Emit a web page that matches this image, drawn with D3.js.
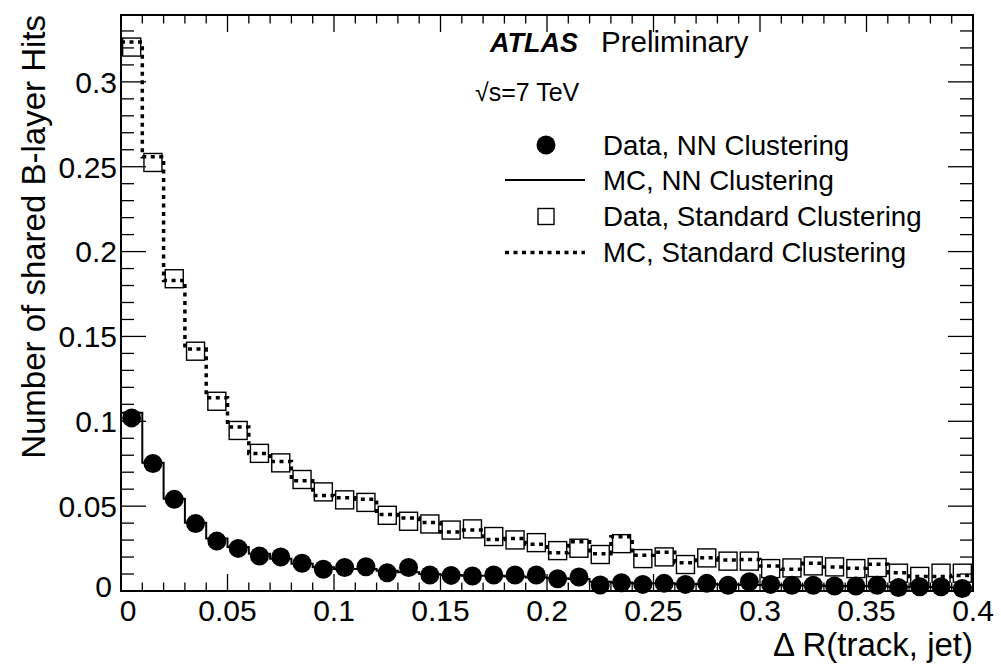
<!DOCTYPE html>
<html><head><meta charset="utf-8">
<script src="https://cdn.jsdelivr.net/npm/d3@7"></script>
<style>body{margin:0;background:#fff}text{font-family:"Liberation Sans",Arial,Helvetica,sans-serif;fill:#000}</style>
</head><body>
<svg id="c" width="1001" height="666"></svg>
<script>
const binEdges = d3.range(0, 41).map(i => i * 0.01);
const dataNN = [0.102,0.0751,0.054,0.0398,0.0294,0.0251,0.0206,0.020,0.0163,0.0128,0.0138,0.0143,0.0108,0.0138,0.0094,0.0092,0.0088,0.0094,0.0094,0.0094,0.0072,0.0082,0.0035,0.0049,0.0039,0.0045,0.0039,0.0045,0.0034,0.0055,0.0039,0.0034,0.0034,0.003,0.003,0.0034,0.002,0.0025,0.0025,0.0015];
const mcNN = [0.105,0.0755,0.0543,0.0402,0.031,0.026,0.022,0.019,0.016,0.014,0.013,0.013,0.012,0.011,0.010,0.0095,0.009,0.009,0.0085,0.008,0.0075,0.007,0.0055,0.005,0.0045,0.0045,0.004,0.004,0.0038,0.0036,0.0035,0.0033,0.0032,0.003,0.003,0.0028,0.0025,0.0025,0.0022,0.002];
const dataStd = [0.3205,0.2525,0.184,0.1413,0.1118,0.0946,0.0811,0.0755,0.0657,0.0584,0.0537,0.0522,0.0446,0.0411,0.0395,0.0359,0.0366,0.0321,0.0301,0.0285,0.0238,0.0252,0.0215,0.0279,0.0191,0.0201,0.0156,0.0195,0.0176,0.0176,0.0132,0.0136,0.0148,0.0142,0.0132,0.0138,0.0105,0.0086,0.0105,0.0105];
const mcStd = [0.3235,0.2559,0.183,0.1426,0.1139,0.0967,0.081,0.0763,0.0649,0.0563,0.0549,0.0541,0.0451,0.043,0.0404,0.0347,0.0359,0.0304,0.031,0.0275,0.0226,0.029,0.022,0.032,0.021,0.0229,0.0167,0.0196,0.0182,0.0186,0.0147,0.0128,0.0163,0.0141,0.0134,0.0157,0.0108,0.0085,0.0085,0.0092];
const xTicksMajor = [0,0.05,0.1,0.15,0.2,0.25,0.3,0.35,0.4];
const yTicksMajor = [0,0.05,0.1,0.15,0.2,0.25,0.3];
const legendLabels = ["Data, NN Clustering","MC, NN Clustering","Data, Standard Clustering","MC, Standard Clustering"];

const L=121,R=973,T=15,B=591;
const svg=d3.select("#c");
const x=d3.scaleLinear().domain([0,0.4]).range([L,R]);
const y=d3.scaleLinear().domain([0,0.3394]).range([B,T]);
const fmt=d=>d===0?"0":String(+d.toFixed(2));

// ticks
const g=svg.append("g");
const xMinor=d3.range(0,41).map(i=>i*0.01);
const yMinor=d3.range(0,34).map(i=>i*0.01);
const isMajor=(v,s)=>Math.abs(v/s-Math.round(v/s))<1e-6;
xMinor.forEach(v=>{const len=isMajor(v,0.05)?17:8.5;
  g.append("line").attr("x1",x(v)).attr("x2",x(v)).attr("y1",B).attr("y2",B-len).attr("stroke","#000").attr("stroke-width",1.3);
  g.append("line").attr("x1",x(v)).attr("x2",x(v)).attr("y1",T).attr("y2",T+len).attr("stroke","#000").attr("stroke-width",1.3);});
yMinor.forEach(v=>{const len=isMajor(v,0.05)?25:13;
  g.append("line").attr("x1",L).attr("x2",L+len).attr("y1",y(v)).attr("y2",y(v)).attr("stroke","#000").attr("stroke-width",1.3);
  g.append("line").attr("x1",R).attr("x2",R-len).attr("y1",y(v)).attr("y2",y(v)).attr("stroke","#000").attr("stroke-width",1.3);});

// tick labels
svg.selectAll(".xl").data(xTicksMajor).join("text").attr("x",d=>d===0?x(d)+7:x(d)).attr("y",621).attr("text-anchor","middle").attr("font-size",30).text(fmt);
svg.selectAll(".yl").data(yTicksMajor).join("text").attr("x",d=>d===0?112:117).attr("y",d=>y(d)).attr("dy",d=>d===0?"0.2em":"0.36em").attr("text-anchor","end").attr("font-size",30).text(fmt);

// axis titles
svg.append("text").attr("x",R).attr("y",656).attr("text-anchor","end").attr("font-size",33).text("\u0394 R(track, jet)");
svg.append("text").attr("transform",`translate(45,${T}) rotate(-90)`).attr("text-anchor","end").attr("font-size",33).text("Number of shared B-layer Hits");

const bins=d3.range(40);
const cx=i=>x((binEdges[i]+binEdges[i+1])/2);
const stepPts=vals=>{const p=[];vals.forEach((v,i)=>{p.push([x(binEdges[i]),y(v)]);p.push([x(binEdges[i+1]),y(v)]);});return p;};
const line=d3.line();

// Data standard squares
const sq=18;
svg.selectAll(".sq").data(bins).join("rect").attr("x",i=>cx(i)-sq/2).attr("y",i=>y(dataStd[i])-sq/2).attr("width",sq).attr("height",sq).attr("fill","none").attr("stroke","#000").attr("stroke-width",1.4);
// MC standard dotted
svg.append("path").attr("d",line(stepPts(mcStd))).attr("fill","none").attr("stroke","#000").attr("stroke-width",3.5).attr("stroke-dasharray","4,4.5");
// MC NN solid
svg.append("path").attr("d",line(stepPts(mcNN))).attr("fill","none").attr("stroke","#000").attr("stroke-width",2);
// Data NN circles
svg.selectAll(".ci").data(bins).join("circle").attr("cx",cx).attr("cy",i=>y(dataNN[i])).attr("r",9.5).attr("fill","#000");

// frame
svg.append("rect").attr("x",L).attr("y",T).attr("width",R-L).attr("height",B-T).attr("fill","none").attr("stroke","#000").attr("stroke-width",2);

// ATLAS label
svg.append("text").attr("x",490).attr("y",52).attr("font-size",27).attr("font-weight","bold").attr("font-style","italic").text("ATLAS");
svg.append("text").attr("x",601).attr("y",52).attr("font-size",29.5).text("Preliminary");
svg.append("text").attr("x",475).attr("y",101).attr("font-size",25).text("\u221As=7 TeV");

// legend
const ly=[145,180,216.5,252.5];
const lx=603;
legendLabels.forEach((t,i)=>svg.append("text").attr("x",lx).attr("y",ly[i]).attr("dy","0.36em").attr("font-size",27.7).text(t));
svg.append("circle").attr("cx",546).attr("cy",ly[0]).attr("r",9.5).attr("fill","#000");
svg.append("line").attr("x1",505).attr("x2",585).attr("y1",ly[1]).attr("y2",ly[1]).attr("stroke","#000").attr("stroke-width",2);
svg.append("rect").attr("x",546-8).attr("y",ly[2]-8).attr("width",16).attr("height",16).attr("fill","none").attr("stroke","#000").attr("stroke-width",1.4);
svg.append("line").attr("x1",505).attr("x2",585).attr("y1",ly[3]).attr("y2",ly[3]).attr("stroke","#000").attr("stroke-width",3.5).attr("stroke-dasharray","4,4.5");
</script>
</body></html>
